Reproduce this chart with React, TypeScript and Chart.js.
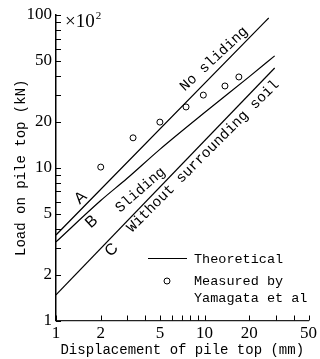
import { useEffect, useRef } from 'react';
import { Chart, registerables } from 'chart.js';

Chart.register(...registerables);

// ---- data ----
const xTickValues = [1, 2, 3, 4, 5, 6, 7, 8, 9, 10, 20, 30, 40, 50];
const xTickLabels = ['1', '2', '5', '10', '20', '50'];
const yTickValues = [1, 2, 3, 4, 5, 6, 7, 8, 9, 10, 20, 30, 40, 50, 60, 70, 80, 90, 100];
const yTickLabels = ['1', '2', '5', '10', '20', '50', '100'];

// A: No sliding
const lineAX = [1, 27];
const lineAY = [3.63, 95.6];
// B: Sliding
const lineBX = [1, 2, 3, 5, 10, 20, 29.6];
const lineBY = [3.27, 6.1, 8.5, 13.2, 23, 39.5, 54];
// C: Without surrounding soil
const lineCX = [1, 29.6];
const lineCY = [1.47, 45];
// Measured by Yamagata et al
const measuredX = [2, 3.3, 5, 7.5, 9.8, 13.7, 17];
const measuredY = [10.1, 15.7, 19.9, 25, 29.9, 34.3, 39.3];

// labels placed on the curves (text, data x, data y)
const curveLabelText = ['A', 'B', 'C', 'No sliding', 'Sliding', 'Without surrounding soil'];
const curveLabelX = [1.47, 1.74, 2.37, 11.57, 3.7, 9.77];
const curveLabelY = [6.34, 4.42, 2.89, 51.5, 7.15, 11.9];

const legendText = ['Theoretical', 'Measured by', 'Yamagata et al'];
const xTitle = 'Displacement of pile top (mm)';
const yTitle = 'Load on pile top (kN)';

// ---- styles ----
const mono = "'Liberation Mono', 'DejaVu Sans Mono', monospace";
const serif = "'Liberation Serif', 'DejaVu Serif', serif";
const labelAngles = [-42, -42, -45, -43, -41, -45];
const labelFonts = [
  `16px 'Liberation Sans', sans-serif`,
  `16px 'Liberation Sans', sans-serif`,
  `16px 'Liberation Sans', sans-serif`,
  `14.5px ${mono}`,
  `14.5px ${mono}`,
  `14.5px ${mono}`,
];

export default function App() {
  const ref = useRef<HTMLCanvasElement>(null);

  useEffect(() => {
    if (!ref.current) return;
    const toPts = (xs: number[], ys: number[]) => xs.map((x, i) => ({ x, y: ys[i] }));
    const lineDs = (xs: number[], ys: number[]) => ({
      data: toPts(xs, ys),
      showLine: true,
      borderColor: '#000',
      borderWidth: 1.2,
      pointRadius: 0,
      fill: false,
      cubicInterpolationMode: 'monotone',
    });

    const overlay = {
      id: 'overlay',
      afterDraw(chart: any) {
        const { ctx, chartArea, scales } = chart;
        const x = scales.x;
        const y = scales.y;
        ctx.save();
        // inward tick marks
        ctx.strokeStyle = '#000';
        ctx.lineWidth = 1;
        ctx.beginPath();
        xTickValues.forEach((v) => {
          const px = Math.round(x.getPixelForValue(v)) + 0.5;
          ctx.moveTo(px, chartArea.bottom);
          ctx.lineTo(px, chartArea.bottom - 5);
        });
        yTickValues.forEach((v) => {
          const py = Math.round(y.getPixelForValue(v)) + 0.5;
          ctx.moveTo(chartArea.left, py);
          ctx.lineTo(chartArea.left + 5, py);
        });
        ctx.stroke();

        // ×10²
        ctx.fillStyle = '#000';
        ctx.textBaseline = 'middle';
        ctx.textAlign = 'left';
        ctx.font = `19px ${serif}`;
        const base = '×10';
        const bx = chartArea.left + 9;
        const by = chartArea.top + 7;
        ctx.fillText(base, bx, by);
        const w = ctx.measureText(base).width;
        ctx.font = `11px ${serif}`;
        ctx.fillText('2', bx + w + 1, by - 6);

        // curve labels
        ctx.textAlign = 'center';
        curveLabelText.forEach((t, i) => {
          const px = x.getPixelForValue(curveLabelX[i]);
          const py = y.getPixelForValue(curveLabelY[i]);
          ctx.save();
          ctx.translate(px, py);
          ctx.rotate((labelAngles[i] * Math.PI) / 180);
          ctx.font = labelFonts[i];
          ctx.fillText(t, 0, 0);
          ctx.restore();
        });

        // legend
        ctx.textAlign = 'left';
        ctx.font = `13.5px ${mono}`;
        ctx.beginPath();
        ctx.lineWidth = 1.2;
        ctx.moveTo(148, 258.5);
        ctx.lineTo(187, 258.5);
        ctx.stroke();
        ctx.fillText(legendText[0], 194, 259);
        ctx.beginPath();
        ctx.lineWidth = 1;
        ctx.arc(167, 281, 3, 0, Math.PI * 2);
        ctx.stroke();
        ctx.fillText(legendText[1], 194, 281);
        ctx.fillText(legendText[2], 194, 298);
        ctx.restore();
      },
    };

    const chart = new Chart(ref.current, {
      type: 'scatter',
      data: {
        datasets: [
          lineDs(lineAX, lineAY),
          lineDs(lineBX, lineBY),
          lineDs(lineCX, lineCY),
          {
            data: toPts(measuredX, measuredY),
            showLine: false,
            pointRadius: 3,
            pointBorderWidth: 1,
            pointBorderColor: '#000',
            pointBackgroundColor: '#fff',
          } as any,
        ],
      },
      options: {
        animation: false,
        responsive: false,
        layout: { padding: { left: 0, top: 15, right: 9, bottom: 0 } },
        plugins: { legend: { display: false }, tooltip: { enabled: false } },
        scales: {
          x: {
            type: 'logarithmic',
            min: 1,
            max: 50,
            afterBuildTicks: (scale: any) => {
              scale.ticks = xTickValues.map((v) => ({ value: v }));
            },
            afterFit: (scale: any) => {
              scale.height = 38.5;
            },
            grid: { display: false, drawTicks: false },
            border: { display: true, color: '#222', width: 1.2, dash: [2, 1] },
            ticks: {
              autoSkip: false,
              maxRotation: 0,
              padding: 3,
              color: '#000',
              font: { family: serif, size: 17 },
              callback: (v: any) => (xTickLabels.includes(String(v)) ? String(v) : ''),
            },
            title: {
              display: true,
              text: xTitle,
              color: '#000',
              font: { family: mono, size: 14 },
              padding: { top: 0, bottom: 0.5 },
            },
          },
          y: {
            type: 'logarithmic',
            min: 1,
            max: 100,
            afterBuildTicks: (scale: any) => {
              scale.ticks = yTickValues.map((v) => ({ value: v }));
            },
            afterFit: (scale: any) => {
              scale.width = 56;
            },
            grid: { display: false, drawTicks: false },
            border: { display: true, color: '#000', width: 1.5 },
            ticks: {
              autoSkip: false,
              padding: 4,
              color: '#000',
              font: { family: serif, size: 17 },
              callback: (v: any) => (yTickLabels.includes(String(v)) ? String(v) : ''),
            },
            title: {
              display: true,
              text: yTitle,
              color: '#000',
              font: { family: mono, size: 14 },
              padding: { top: 12.5, bottom: 0 },
            },
          },
        },
      },
      plugins: [overlay],
    } as any);

    return () => chart.destroy();
  }, []);

  return (
    <div style={{ position: 'absolute', left: 0, top: 0, width: 320, height: 359 }}>
      <canvas ref={ref} width={320} height={359} />
    </div>
  );
}
